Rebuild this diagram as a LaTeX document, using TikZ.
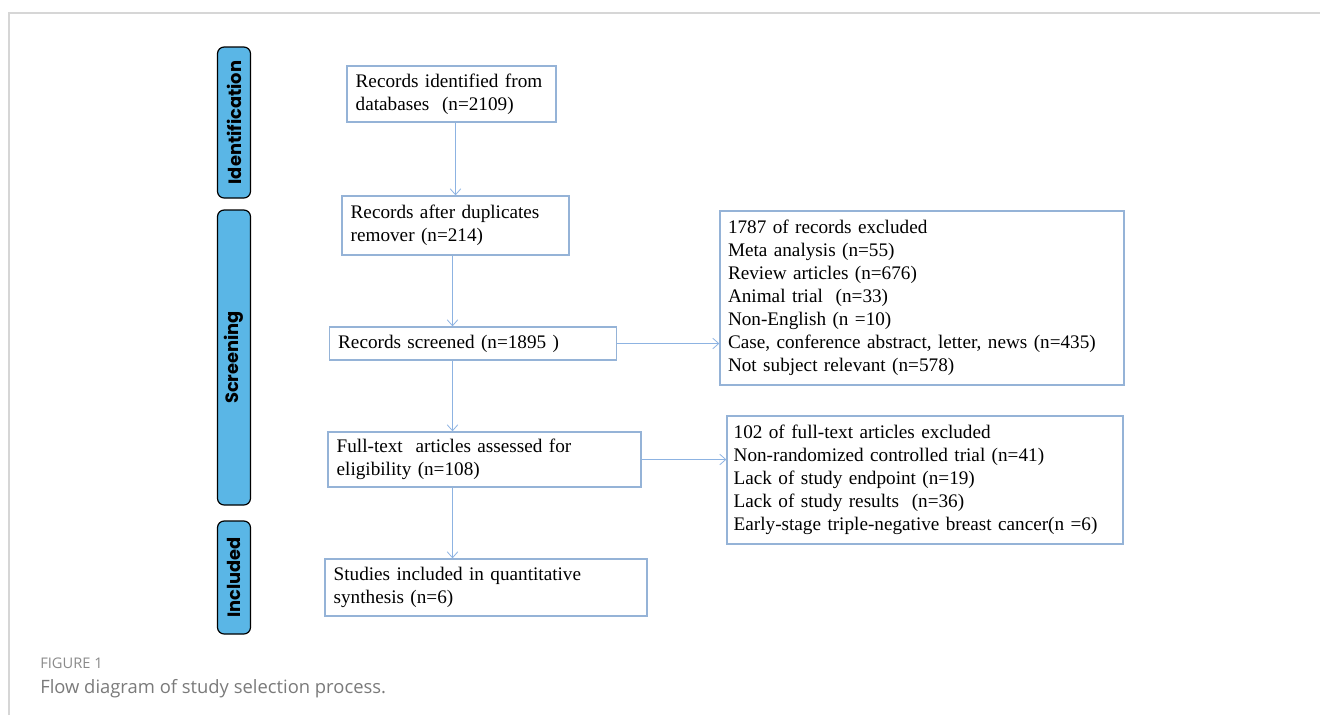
\documentclass[tikz,border=0pt]{standalone}
\usepackage{fontspec}
\setmainfont{Liberation Serif}
\newfontfamily\barfont{Poppins}
\newfontfamily\capfont{Open Sans}
\usetikzlibrary{arrows.meta,calc}
\definecolor{boxblue}{HTML}{95B3D7}
\definecolor{arrblue}{HTML}{8DB3E2}
\definecolor{barfill}{HTML}{5AB6E6}
\definecolor{framegray}{HTML}{D6D6D6}
\definecolor{capgray}{HTML}{8A8A8A}
\definecolor{captext}{HTML}{7A7A7A}
\tikzset{
  flowbox/.style={draw=boxblue, line width=1pt, inner xsep=6.5pt, inner ysep=0pt,
    align=left, font=\fontsize{14.4}{17.2}\selectfont, anchor=center},
  phasebar/.style={draw=black, line width=0.9pt, fill=barfill, rounded corners=5pt,
    minimum width=24.75pt, anchor=center},
  phaselabel/.style={rotate=90, font=\barfont\bfseries\fontsize{13.4}{15}\selectfont},
  flowarrow/.style={draw=arrblue, line width=0.6pt, -{Straight Barb[length=4.5pt,width=8pt]}},
}
\begin{document}
\begin{tikzpicture}[x=0.75pt,y=-0.75pt]
\useasboundingbox (0,0) rectangle (1320,715);
% frame
\coordinate (fbl) at (9,715);
\coordinate (ftl) at (9,13);
\coordinate (ftr) at (1320,13);
\draw[framegray, line width=1.5pt] (fbl) -- (ftl) -- (ftr);

% phase bars
\node[phasebar, minimum height=113.25pt] (idbar) at (234,122.5) {};
\node[phaselabel] (idlab) at (idbar.center) {Identification};
\node[phasebar, minimum height=221.25pt] (scbar) at (234,357.5) {};
\node[phaselabel] (sclab) at (scbar.center) {Screening};
\node[phasebar, minimum height=84.75pt] (inbar) at (234,577.5) {};
\node[phaselabel] (inlab) at (inbar.center) {Included};

% main boxes
\node[flowbox, minimum width=156.75pt, minimum height=42pt, text width=143.75pt] (b1) at (451.5,94)
  {Records identified from\\databases~ (n=2109)};
\node[flowbox, minimum width=170.25pt, minimum height=44.25pt, text width=157.25pt] (b2) at (455.5,225.5)
  {Records after duplicates\\remover (n=214)};
\node[flowbox, minimum width=215.25pt, minimum height=24.75pt, text width=202.25pt] (b3) at (473,343.5)
  {Records screened (n=1895 )};
\node[flowbox, minimum width=234.75pt, minimum height=41.25pt, text width=221.75pt] (b4) at (484.5,459.5)
  {Full-text~ articles assessed for\\eligibility (n=108)};
\node[flowbox, minimum width=241.5pt, minimum height=42.75pt, text width=228.5pt] (b5) at (486,587.5)
  {Studies included in quantitative\\synthesis (n=6)};

% exclusion boxes
\node[flowbox, minimum width=303pt, minimum height=130.5pt, text width=291pt, inner xsep=5.5pt] (ea) at (922,298)
  {1787 of records excluded\\Meta analysis (n=55)\\Review articles (n=676)\\Animal trial~ (n=33)\\Non-English (n =10)\\Case, conference abstract, letter, news (n=435)\\Not subject relevant (n=578)};
\node[flowbox, minimum width=297pt, minimum height=96pt, text width=287pt, inner xsep=5pt] (eb) at (925,480)
  {102 of full-text articles excluded\\Non-randomized controlled trial (n=41)\\Lack of study endpoint (n=19)\\Lack of study results~ (n=36)\\Early-stage triple-negative breast cancer(n =6)};

% connectors
\draw[flowarrow] (b1.south -| b2.south) -- (b2.north);
\draw[flowarrow] ($(b2.south)+(-3,0)$) -- ($(b2.south |- b3.north)+(-3,0)$);
\draw[flowarrow] ($(b2.south |- b3.south)+(-3,0)$) -- ($(b2.south |- b4.north)+(-3,0)$);
\draw[flowarrow] ($(b2.south |- b4.south)+(-3,0)$) -- ($(b2.south |- b5.north)+(-3,0)$);
\draw[flowarrow] (b3.east) -- (b3.east -| ea.west);
\draw[flowarrow] (b4.east) -- (b4.east -| eb.west);

% caption
\node[anchor=base west, inner sep=0pt, text=capgray, font=\capfont\fontsize{11}{13}\selectfont] (cap1) at (40,668) {FIGURE 1};
\node[anchor=base west, inner sep=0pt, text=captext, font=\capfont\fontsize{13.8}{16}\selectfont] (cap2) at (40,693) {Flow diagram of study selection process.};
\end{tikzpicture}
\end{document}
